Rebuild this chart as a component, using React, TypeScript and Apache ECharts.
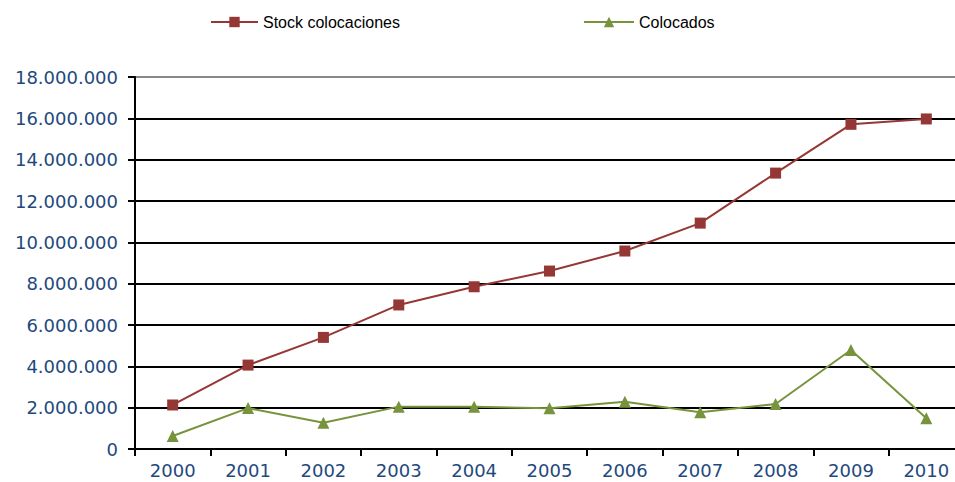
import React, { useEffect, useRef } from "react";
import * as echarts from "echarts";

const years = ["2000", "2001", "2002", "2003", "2004", "2005", "2006", "2007", "2008", "2009", "2010"];
const stockColocaciones = [2130000, 4060000, 5400000, 6970000, 7850000, 8610000, 9580000, 10930000, 13350000, 15710000, 15970000];
const colocados = [630000, 1980000, 1270000, 2050000, 2050000, 1970000, 2290000, 1780000, 2180000, 4790000, 1490000];

const fmt = (v: number) => String(Math.round(v)).replace(/\B(?=(\d{3})+(?!\d))/g, ".");

export default function App() {
  const ref = useRef<HTMLDivElement>(null);
  useEffect(() => {
    if (!ref.current) return;
    const chart = echarts.init(ref.current, null, { renderer: "svg" });
    const gridColors = ["#000", "#000", "#000", "#000", "#000", "#000", "#000", "#000", "#000", "#888"];
    chart.setOption({
      animation: false,
      backgroundColor: "#fff",
      legend: [
        {
          data: ["Stock colocaciones"],
          left: 210,
          top: 14,
          padding: 0,
          itemWidth: 47,
          itemHeight: 13,
          textStyle: { fontFamily: "Liberation Sans", fontSize: 16, color: "#000" },
        },
        {
          data: ["Colocados"],
          left: 583,
          top: 14,
          padding: 0,
          itemWidth: 50,
          itemHeight: 13,
          textStyle: { fontFamily: "Liberation Sans", fontSize: 16, color: "#000" },
        },
      ],
      grid: { left: 135, top: 77, right: 11, height: 372, containLabel: false },
      xAxis: {
        type: "category",
        data: years,
        boundaryGap: true,
        axisLine: { show: true, lineStyle: { color: "#000", width: 2 } },
        axisTick: { show: true, interval: 0, length: 7, lineStyle: { color: "#000", width: 2 } },
        axisLabel: { color: "#1F497D", fontFamily: "DejaVu Sans", fontSize: 18, margin: 12, interval: 0 },
        splitLine: { show: false },
      },
      yAxis: {
        type: "value",
        min: 0,
        max: 18000000,
        interval: 2000000,
        axisLine: { show: true, lineStyle: { color: "#000", width: 2 } },
        axisTick: { show: true, length: 7, lineStyle: { color: "#000", width: 2 } },
        axisLabel: { color: "#1F497D", fontFamily: "DejaVu Sans", fontSize: 18, margin: 17, formatter: (v: number) => fmt(v) },
        splitLine: { show: true, lineStyle: { color: gridColors, width: 2 } },
      },
      series: [
        {
          name: "Stock colocaciones",
          type: "line",
          data: stockColocaciones,
          symbol: "rect",
          symbolSize: 11,
          lineStyle: { color: "#953735", width: 2 },
          itemStyle: { color: "#953735" },
          z: 3,
        },
        {
          name: "Colocados",
          type: "line",
          data: colocados,
          symbol: "triangle",
          symbolSize: 12,
          lineStyle: { color: "#77933C", width: 2 },
          itemStyle: { color: "#77933C" },
          z: 4,
        },
      ],
    });
    return () => chart.dispose();
  }, []);
  return (
    <div style={{ position: "absolute", left: 0, top: 0, width: 955, height: 482, overflow: "hidden", background: "#fff" }}>
      <div ref={ref} style={{ width: 975, height: 482 }} />
    </div>
  );
}
